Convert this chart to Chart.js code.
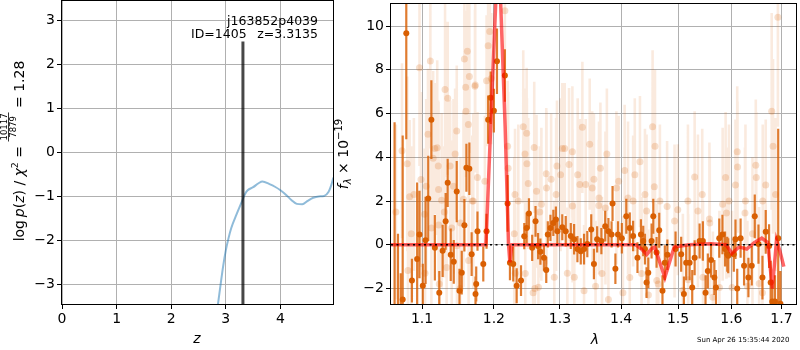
<!DOCTYPE html>
<html>
<head>
<meta charset="utf-8">
<script src="https://cdn.jsdelivr.net/npm/chart.js@4.4.1/dist/chart.umd.min.js"></script>
<style>
  body { margin: 0; background: #fff; }
  #wrap { position: relative; width: 800px; height: 350px; }
  canvas { position: absolute; top: 0; }
  #stamp { position: absolute; left: 697px; top: 336px; font-family: 'DejaVu Sans'; font-size: 7px; line-height: 8px; white-space: nowrap; }
</style>
</head>
<body>
<div id="wrap">
  <canvas id="pzChart" width="340" height="350" style="left:0"></canvas>
  <canvas id="specChart" width="480" height="350" style="left:320px"></canvas>
  <div id="stamp">Sun Apr 26 15:35:44 2020</div>
</div>
<script>
// ---- left panel: log p(z) ----
const zGrid = [2.84, 2.90, 2.95, 3.00, 3.05, 3.10, 3.20, 3.30, 3.35, 3.40, 3.50, 3.60, 3.67, 3.80,
               3.90, 4.00, 4.10, 4.20, 4.30, 4.40, 4.50, 4.60, 4.70, 4.80, 4.88, 4.93, 4.97];
const logPz = [-3.60, -3.05, -2.60, -2.23, -1.95, -1.72, -1.40, -1.10, -0.95, -0.86, -0.79, -0.70, -0.66, -0.72,
               -0.78, -0.86, -0.96, -1.08, -1.17, -1.18, -1.10, -1.03, -1.00, -0.99, -0.90, -0.75, -0.57];
const zBest = 3.3135;
const zTicks = [0, 1, 2, 3, 4];
const pzTicks = [-3, -2, -1, 0, 1, 2, 3];

// ---- right panel: spectrum ----
const lamTicks = [1.1, 1.2, 1.3, 1.4, 1.5, 1.6, 1.7];
const fluxTicks = [-2, 0, 2, 4, 6, 8, 10];

// good pixels
const lam = [
  1.0640, 1.0684, 1.0720, 1.0745, 1.0792, 1.0866, 1.0935, 1.0966, 1.1010, 1.1047,
  1.1083, 1.1125, 1.1172, 1.1232, 1.1278, 1.1319, 1.1347, 1.1389, 1.1431, 1.1472,
  1.1510, 1.1542, 1.1579, 1.1607, 1.1649, 1.1681, 1.1736, 1.1746, 1.1764, 1.1847,
  1.1894, 1.1917, 1.1954, 1.2000, 1.2045, 1.2161, 1.2201, 1.2236, 1.2285, 1.2336,
  1.2401, 1.2450, 1.2486, 1.2521, 1.2570, 1.2621, 1.2660, 1.2696, 1.2750, 1.2786,
  1.2810, 1.2851, 1.2896, 1.2936, 1.2960, 1.3037, 1.3091, 1.3172, 1.3225, 1.3278,
  1.3332, 1.3385, 1.3438, 1.3502, 1.3546, 1.3599, 1.3669, 1.3733, 1.3786, 1.3839,
  1.3855, 1.3903, 1.3947, 1.4012, 1.4088, 1.4147, 1.4205, 1.4280, 1.4340, 1.4380,
  1.4410, 1.4438, 1.4468, 1.4526, 1.4556, 1.4614, 1.4661, 1.4719, 1.4761, 1.4807,
  1.4954, 1.5056, 1.5106, 1.5148, 1.5211, 1.5259, 1.5304, 1.5396, 1.5457, 1.5507,
  1.5550, 1.5611, 1.5674, 1.5704, 1.5767, 1.5828, 1.5878, 1.5921, 1.5939, 1.6048,
  1.6080, 1.6114, 1.6180, 1.6248, 1.6334, 1.6400, 1.6460, 1.6534, 1.6614, 1.6680,
  1.6748, 1.6780, 1.6814, 1.6868, 1.6934, 1.6980];
const flux = [
  -3.20, -3.00, -3.50, -2.50, 9.67, -1.64, -0.65, 0.47, -1.87, 0.20,
  2.12, 5.72, -0.14, -2.20, -0.28, 1.07, 2.83, -0.46, -0.78, 2.43,
  -2.10, -1.28, 0.89, 3.52, 3.48, -0.43, -2.25, -1.79, 0.62, -0.88,
  0.62, 5.72, 6.72, 6.13, 8.39, 7.74, 1.89, -0.82, -0.88, -1.87,
  -1.64, 0.39, 0.77, 1.43, -0.14, 1.07, -0.06, -0.32, -0.59, -1.15,
  0.47, 0.77, 1.00, 1.15, 0.62, 0.80, 0.62, 0.40, 0.25, -0.20,
  -0.30, -0.20, 0.03, 0.70, -0.88, 0.25, 0.17, 0.85, 0.62, 0.47,
  1.89, -1.10, 0.47, 0.30, 1.30, 0.77, 0.40, -0.59, 0.47, 0.17,
  -0.20, -1.73, -1.28, 0.17, 1.30, -0.35, 0.66, -2.10, -0.82, -0.46,
  -0.20, -0.43, -2.25, -0.82, -0.82, -1.96, -0.59, 0.17, 0.17, -2.20,
  -1.20, -0.70, -1.50, -1.96, 0.30, 0.47, -0.20, -0.43, -0.50, -0.43,
  0.25, -2.00, 0.30, -0.96, -1.50, -0.96, 1.30, 0.03, -1.50, 0.59,
  -0.06, -1.73, -2.60, -2.60, 0.30, -2.70];
const fluxErr = [
  8.8, 3.5, 2.2, 7.5, 4.84, 1.0, 3.5, 2.0, 1.0, 2.0,
  1.95, 1.8, 1.5, 1.0, 1.2, 1.3, 1.1, 1.2, 1.0, 1.4,
  1.0, 1.0, 1.2, 1.1, 1.2, 1.0, 0.8, 0.8, 0.9, 0.8,
  0.8, 1.1, 1.2, 1.0, 1.5, 1.2, 1.3, 0.8, 0.8, 0.8,
  0.7, 0.6, 0.7, 0.7, 0.6, 0.7, 0.6, 0.6, 0.6, 0.6,
  0.6, 0.6, 0.6, 0.6, 0.6, 0.6, 0.7, 0.6, 0.7, 0.6,
  0.6, 0.7, 0.6, 0.7, 0.7, 0.6, 0.6, 0.7, 0.6, 0.6,
  0.8, 0.7, 0.6, 0.7, 0.8, 0.7, 0.7, 0.7, 0.7, 0.7,
  0.7, 0.7, 0.7, 0.8, 0.8, 0.7, 0.8, 0.7, 0.8, 0.7,
  0.8, 0.8, 0.8, 0.8, 0.8, 0.8, 0.8, 0.8, 0.9, 0.8,
  0.8, 0.8, 0.8, 0.8, 0.9, 0.9, 0.8, 0.8, 0.8, 0.8,
  0.9, 0.9, 0.9, 0.9, 0.9, 0.9, 1.0, 0.9, 1.0, 1.0,
  1.0, 1.0, 1.0, 1.2, 5.0, 1.5];

// other exposures (faded)
const lamFaint = [
  1.0657, 1.0736, 1.0805, 1.0836, 1.0892, 1.0966, 1.1033, 1.1040, 1.1079, 1.1111,
  1.1172, 1.1218, 1.1225, 1.1232, 1.1301, 1.1311, 1.1347, 1.1381, 1.1450, 1.1472,
  1.1519, 1.1524, 1.1579, 1.1597, 1.1600, 1.1621, 1.1635, 1.1649, 1.1690, 1.1728,
  1.1764, 1.1870, 1.1894, 1.1917, 1.1940, 1.1963, 1.2161, 1.2201, 1.2311, 1.2315,
  1.2435, 1.2461, 1.2486, 1.2490, 1.2510, 1.2601, 1.2610, 1.2686, 1.2786, 1.2862,
  1.2953, 1.3037, 1.3075, 1.3117, 1.3197, 1.3316, 1.3358, 1.3385, 1.3412, 1.3477,
  1.3546, 1.3573, 1.3626, 1.3653, 1.3760, 1.3786, 1.3958, 1.4060, 1.4147, 1.4205,
  1.4323, 1.4410, 1.4470, 1.4544, 1.4574, 1.4586, 1.4644, 1.4802, 1.4994, 1.5185,
  1.5304, 1.5445, 1.5587, 1.5646, 1.5889, 1.5905, 1.6080, 1.6114, 1.6120, 1.6266,
  1.6314, 1.6480, 1.6490, 1.6614, 1.6680, 1.6801, 1.6828, 1.6880, 1.6928,
  1.1204, 1.1149, 1.0986, 1.1056, 1.1222, 1.1264, 1.1427, 1.1566, 1.1704, 1.1403,
  1.1125, 1.0857, 1.1475, 1.1638, 1.0814, 1.1333, 1.1732, 1.2209, 1.2636, 1.2790,
  1.3010, 1.2360, 1.2711, 1.2940, 1.2465, 1.2665, 1.2911, 1.2585, 1.2300, 1.3144,
  1.3282, 1.3518, 1.3630, 1.3920, 1.4117, 1.4234, 1.3200, 1.3737, 1.3228, 1.3679,
  1.4030, 1.4351, 1.4438, 1.4673, 1.4936, 1.5180, 1.5365, 1.5580, 1.5832, 1.4618,
  1.5087, 1.5460, 1.5770, 1.5954, 1.6275, 1.6620, 1.6414, 1.6548, 1.6014];
const fluxFaint = [
  1.5, 4.3, 3.7, 2.2, 2.3, 8.1, 1.4, -1.3, 5.05, 8.4,
  4.4, 3.6, 0.9, -1.8, 1.5, 7.1, 6.7, 3.6, 4.15, 5.2,
  -2.0, 1.0, 8.5, 7.2, 6.1, 8.85, 5.5, 7.7, 2.0, 7.25,
  3.07, 2.9, 7.5, 9.1, 9.75, 7.6, 10.7, 4.5, 2.3, -1.3,
  5.4, 4.15, 5.1, 3.7, 2.8, 4.45, -2.0, 1.5, 3.25, 3.0,
  3.6, 4.4, 4.4, -1.3, 4.25, 2.75, 5.37, -2.1, 2.75, 4.6,
  3.0, -1.9, 1.8, 3.5, 4.15, -2.5, 2.9, 3.4, -1.5, 2.0,
  3.8, 2.3, -2.3, 5.4, 2.65, 4.5, -1.8, 1.75, 1.6, -1.6,
  3.1, 2.3, 1.0, -2.4, 3.07, 1.45, 2.73, 4.25, 3.55, 1.45,
  -1.9, 3.64, 3.07, -2.2, 2.73, 6.1, 4.5, 2.3, 10.4,
  4.44, 3.95, 2.98, 2.67, 2.53, 2.03, 2.67, 2.08, 2.00, 0.77,
  0.77, 0.50, -0.05, -0.72, -1.18, -1.04, 7.30, 3.50, 2.45, 2.60,
  3.20, 2.00, 1.85, 2.30, -1.32, -1.94, -1.49, -2.20, 0.50, 3.67,
  3.20, 2.60, 2.14, 2.60, 2.14, 3.20, 1.77, 1.68, -1.49, -1.32,
  -2.20, -1.32, 1.54, 2.00, 1.09, 2.00, 1.54, 1.18, 1.85, -1.63,
  -2.08, -1.49, -1.95, 2.00, 2.00, 2.00, 0.50, -1.77, -1.95];
const errFaint = [
  4.0, 4.0, 4.0, 3.5, 3.5, 4.5, 3.0, 3.0, 3.0, 4.0,
  3.0, 3.0, 3.0, 3.0, 3.0, 4.0, 3.5, 3.0, 3.0, 3.0,
  3.0, 3.0, 4.0, 3.5, 3.0, 4.0, 3.0, 3.5, 3.0, 3.5,
  3.0, 3.0, 3.0, 3.0, 3.0, 3.0, 3.0, 3.0, 3.0, 3.0,
  3.5, 3.0, 3.0, 3.0, 3.0, 3.0, 3.0, 3.0, 3.0, 3.0,
  3.0, 3.0, 3.0, 3.0, 3.0, 3.0, 3.0, 3.0, 3.0, 3.0,
  3.0, 3.0, 3.0, 3.0, 3.0, 3.0, 3.0, 3.0, 3.0, 3.0,
  3.0, 3.0, 3.0, 3.5, 3.0, 3.5, 3.0, 3.0, 3.0, 3.0,
  3.0, 3.0, 3.0, 3.0, 3.0, 3.0, 3.0, 3.0, 3.0, 3.0,
  3.0, 3.0, 3.0, 3.0, 3.0, 4.5, 4.0, 3.5, 5.0,
  4.0, 4.0, 4.0, 4.0, 4.0, 4.0, 4.0, 4.0, 4.0, 4.0,
  4.0, 4.0, 4.0, 4.0, 4.0, 4.0, 4.0, 3.5, 3.5, 3.5,
  3.5, 3.5, 3.5, 3.5, 3.5, 3.5, 3.5, 3.5, 3.5, 3.5,
  3.5, 3.5, 3.5, 3.5, 3.5, 3.5, 3.5, 3.5, 3.5, 3.5,
  3.5, 3.5, 3.5, 3.5, 3.5, 3.5, 3.5, 3.5, 3.5, 3.5,
  3.5, 3.5, 3.5, 3.5, 3.5, 3.5, 3.5, 3.5, 3.5];

// best-fit model
const lamModel = [1.0594, 1.1885, 1.1955, 1.2065, 1.2165, 1.2215, 1.2235, 1.2265, 1.4250, 1.4350,
                  1.4440, 1.4520, 1.4580, 1.4761, 1.4930, 1.5200, 1.5600, 1.5900, 1.6010, 1.6150,
                  1.6300, 1.6450, 1.6600, 1.6720, 1.6814, 1.6900, 1.6970, 1.7050];
const fluxModel = [0, 0, 5.5, 14, 5.4, 0, -0.8, 0, 0, -0.2,
                   -0.45, -0.2, -0.1, -1.5, -0.1, 0, 0.05, 0, -0.4, -0.1,
                   -0.2, 0.1, 0.3, 0.1, -2.0, 0.2, -0.3, -1.0];

Chart.defaults.font.family = "'DejaVu Sans'";
Chart.defaults.color = '#000';

const pairs = (xs, ys) => xs.map((x, i) => ({x: x, y: ys[i]}));
function errorSegments(xs, ys, es) {
    const out = [];
    xs.forEach((x, i) => {
        out.push({x: x, y: ys[i] - es[i]}, {x: x, y: ys[i] + es[i]}, {x: x, y: null});
    });
    return out;
}
const minus = v => String(v).replace('-', '\u2212');

function axis(min, max, tickVals, fmt, fit) {
    return {
        min: min, max: max,
        afterBuildTicks: s => { s.ticks = tickVals.map(v => ({value: v})); },
        afterFit: fit,
        ticks: { color: '#000', font: {size: 14}, padding: 2, autoSkip: false, maxRotation: 0, callback: fmt },
        grid: { color: '#b0b0b0', lineWidth: 1, tickLength: 5, tickColor: '#000', tickWidth: 1 },
        border: { display: false }
    };
}
const fixWidth = w => s => { s.width = w; s.paddingTop = 0; s.paddingBottom = 0; };
const fixHeight = h => s => { s.height = h; s.paddingLeft = 0; s.paddingRight = 0; };

// rich text helper for the math-style labels
function drawRich(ctx, x, y, angle, parts) {
    ctx.save();
    ctx.translate(x, y);
    ctx.rotate(angle);
    ctx.fillStyle = '#000';
    ctx.textBaseline = 'alphabetic';
    ctx.textAlign = 'left';
    const widths = parts.map(p => {
        ctx.font = p.font;
        if (p.num) return Math.max(ctx.measureText(p.num).width, ctx.measureText(p.den).width) + 2;
        return ctx.measureText(p.t).width;
    });
    let cur = -widths.reduce((a, b) => a + b, 0) / 2;
    parts.forEach((p, i) => {
        ctx.font = p.font;
        const w = widths[i];
        if (p.num) {
            ctx.fillText(p.num, cur + (w - ctx.measureText(p.num).width) / 2, -17);
            ctx.fillText(p.den, cur + (w - ctx.measureText(p.den).width) / 2, -8);
            ctx.fillRect(cur, -15.8, w, 0.8);
        } else {
            ctx.fillText(p.t, cur, p.dy || 0);
        }
        cur += w;
    });
    ctx.restore();
}

function strokeFrame(chart) {
    const ctx = chart.ctx, a = chart.chartArea;
    ctx.save();
    ctx.strokeStyle = '#000';
    ctx.lineWidth = 1;
    ctx.strokeRect(Math.round(a.left) - 0.5, Math.round(a.top) - 0.5,
                   Math.round(a.right - a.left) + 1, Math.round(a.bottom - a.top) + 1);
    ctx.restore();
}

const R = "14px 'DejaVu Sans'", I = "italic 14px 'DejaVu Sans'";

const pzDecor = {
    id: 'pzDecor',
    afterDatasetsDraw(chart) {
        strokeFrame(chart);
        const ctx = chart.ctx;
        ctx.save();
        ctx.fillStyle = '#000';
        ctx.font = "12.5px 'DejaVu Sans'";
        ctx.textAlign = 'right';
        ctx.fillText('j163852p4039', 318, 25);
        ctx.fillText('z=3.3135', 318, 38);
        ctx.textAlign = 'left';
        ctx.fillText('ID=1405', 191, 38);
        ctx.font = I;
        ctx.textAlign = 'center';
        ctx.fillText('z', 197, 343);
        ctx.restore();
        drawRich(ctx, 24, 151, -Math.PI / 2, [
            {t: 'log', font: R}, {t: '\u2009', font: R}, {t: 'p', font: I}, {t: '(', font: R},
            {t: 'z', font: I}, {t: ')', font: R}, {t: ' / ', font: R}, {t: '\u03c7', font: I},
            {t: '2', font: "9.5px 'DejaVu Sans'", dy: -6}, {t: ' = ', font: R},
            {num: '10117', den: '7879', font: "8.5px 'DejaVu Sans'"}, {t: ' = 1.28', font: R}
        ]);
    }
};

const specDecor = {
    id: 'specDecor',
    afterDatasetsDraw(chart) {
        strokeFrame(chart);
        const ctx = chart.ctx;
        ctx.save();
        ctx.fillStyle = '#000';
        ctx.font = I;
        ctx.textAlign = 'center';
        ctx.fillText('\u03bb', 275, 344);
        ctx.restore();
        drawRich(ctx, 28, 154, -Math.PI / 2, [
            {t: 'f', font: I}, {t: '\u03bb', font: "italic 10px 'DejaVu Sans'", dy: 3},
            {t: ' \u00d7 10', font: R}, {t: '\u221219', font: "10px 'DejaVu Sans'", dy: -6}
        ]);
    }
};

new Chart(document.getElementById('pzChart'), {
    type: 'line',
    data: {
        datasets: [{
            data: [{x: zBest, y: -3.45}, {x: zBest, y: 2.53}],
            borderColor: 'rgba(0,0,0,0.72)', borderWidth: 3, pointRadius: 0, clip: 0
        }, {
            data: pairs(zGrid, logPz),
            borderColor: 'rgba(31,119,180,0.5)', borderWidth: 2, pointRadius: 0,
            cubicInterpolationMode: 'monotone', clip: 0
        }]
    },
    options: {
        responsive: false, animation: false, devicePixelRatio: 1,
        layout: { padding: {left: 0, right: 7, top: 1, bottom: 0} },
        plugins: { legend: {display: false}, tooltip: {enabled: false} },
        scales: {
            x: Object.assign({type: 'linear'}, axis(0, 4.963, zTicks, v => minus(v), fixHeight(46))),
            y: Object.assign({type: 'linear'}, axis(-3.45, 3.45, pzTicks, v => minus(v), fixWidth(62)))
        }
    },
    plugins: [pzDecor]
});

new Chart(document.getElementById('specChart'), {
    type: 'line',
    data: {
        datasets: [{
            // zero level
            data: [{x: 1.0594, y: 0}, {x: 1.7303, y: 0}],
            borderColor: '#000', borderWidth: 1.6, borderDash: [2, 3.5], pointRadius: 0, clip: 0
        }, {
            data: pairs(lamModel, fluxModel),
            borderColor: 'rgba(255,0,0,0.6)', borderWidth: 3.5, pointRadius: 0, tension: 0, clip: 0
        }, {
            data: pairs(lam, flux),
            showLine: false, pointRadius: 3, pointBorderWidth: 0,
            pointBackgroundColor: '#d95f02', clip: 0
        }, {
            data: errorSegments(lam, flux, fluxErr),
            borderColor: 'rgba(217,95,2,0.82)', borderWidth: 2.2, pointRadius: 0, spanGaps: false, clip: 0
        }, {
            data: pairs(lamFaint, fluxFaint),
            showLine: false, pointRadius: 3.5, pointBorderWidth: 0,
            pointBackgroundColor: 'rgba(217,95,2,0.2)', clip: 0
        }, {
            data: errorSegments(lamFaint, fluxFaint, errFaint),
            borderColor: 'rgba(217,95,2,0.13)', borderWidth: 2.6, pointRadius: 0, spanGaps: false, clip: 0
        }]
    },
    options: {
        responsive: false, animation: false, devicePixelRatio: 1,
        layout: { padding: {left: 0, right: 1, top: 1, bottom: 0} },
        plugins: { legend: {display: false}, tooltip: {enabled: false} },
        scales: {
            x: Object.assign({type: 'logarithmic'}, axis(1.0594, 1.7303, lamTicks, v => Number(v).toFixed(1), fixHeight(46))),
            y: Object.assign({type: 'linear'}, axis(-2.71, 11.01, fluxTicks, v => minus(v), fixWidth(71)))
        }
    },
    plugins: [specDecor]
});
</script>
</body>
</html>
